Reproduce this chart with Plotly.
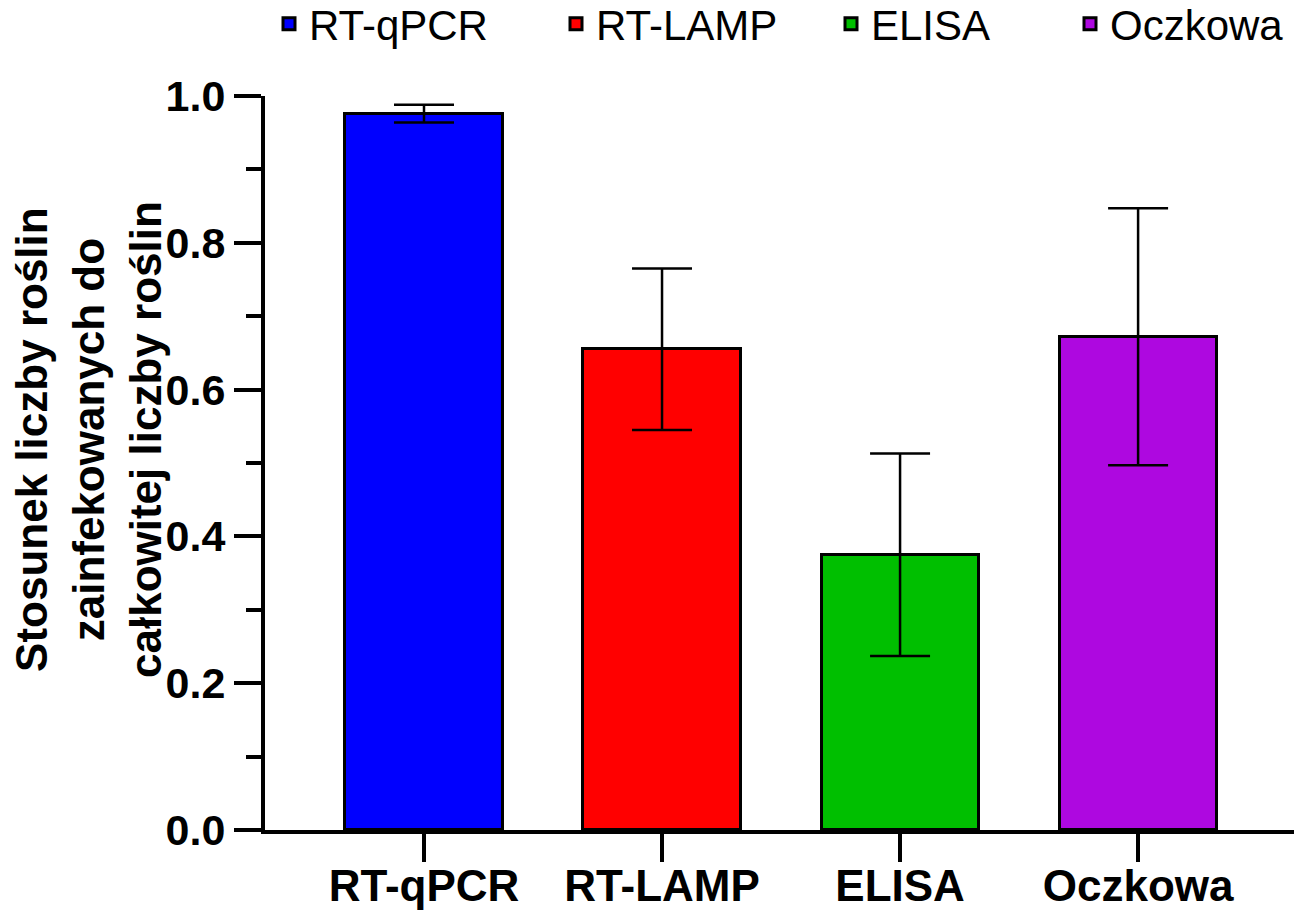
import plotly.graph_objects as go

categories = ["RT-qPCR", "RT-LAMP", "ELISA", "Oczkowa"]
means = [0.976, 0.655, 0.375, 0.672]
errors = [0.012, 0.110, 0.138, 0.175]
colors = ["#0000FF", "#FF0000", "#00BF00", "#AE08E0"]
y_ticks = [0.0, 0.2, 0.4, 0.6, 0.8, 1.0]
y_title = "Stosunek liczby roślin<br>zainfekowanych do<br>całkowitej liczby roślin"

FONT = "Arial, 'Liberation Sans', sans-serif"

W, H = 1294, 913
ML, MR, MT, MB = 265, 0, 96, 83
PW = W - ML - MR
PH = H - MT - MB

legend_names = ["legend", "legend2", "legend3", "legend4"]
legend_text_px = [309, 596, 871, 1110]

fig = go.Figure()
for i, cat in enumerate(categories):
    fig.add_trace(go.Bar(
        x=[cat], y=[means[i]], name=cat,
        width=0.66,
        marker=dict(color=colors[i], line=dict(color="black", width=3)),
        error_y=dict(type="data", array=[errors[i]], visible=True,
                     color="black", thickness=2.5, width=30),
        legend=legend_names[i],
        showlegend=True,
    ))

layout_legends = {}
for i, ln in enumerate(legend_names):
    layout_legends[ln] = dict(
        x=(legend_text_px[i] - 40 - ML) / PW,
        xanchor="left",
        y=(H - MB - 24) / PH,
        yanchor="middle",
        orientation="h",
        font=dict(family=FONT, size=42, color="black"),
        bgcolor="rgba(0,0,0,0)",
    )

fig.update_layout(
    template="none",
    width=W, height=H,
    margin=dict(l=ML, r=MR, t=MT, b=MB, pad=0, autoexpand=False),
    plot_bgcolor="white", paper_bgcolor="white",
    bargap=0,
    font=dict(family=FONT, color="black"),
    **layout_legends,
)

fig.update_xaxes(
    type="category", automargin=False,
    categoryorder="array", categoryarray=categories,
    range=[-0.668, 3.655],
    showline=True, linecolor="black", linewidth=4,
    ticks="outside", ticklen=28, tickwidth=4, tickcolor="black",
    ticklabelstandoff=-14,
    tickfont=dict(family=FONT, size=44, color="black", weight="bold"),
    showgrid=False, zeroline=False,
)
fig.update_yaxes(
    range=[0, 1.0], automargin=False,
    tickvals=y_ticks, ticktext=[f"{v:.1f}" for v in y_ticks],
    showline=True, linecolor="black", linewidth=4,
    ticks="outside", ticklen=27, tickwidth=4, tickcolor="black",
    tickfont=dict(family=FONT, size=43, color="black", weight="bold"),
    minor=dict(ticks="outside", ticklen=15, tickwidth=4, tickcolor="black", dtick=0.1, showgrid=False),
    showgrid=False, zeroline=False,
)

fig.add_annotation(
    text=y_title, textangle=-90,
    xref="paper", yref="paper",
    x=(88 - ML) / PW, y=(H - MB - 440) / PH,
    xanchor="center", yanchor="middle",
    showarrow=False,
    font=dict(family=FONT, size=44, color="black", weight="bold"),
)

fig.write_html("out.html", config={"displayModeBar": False},
               post_script="document.body.style.margin='0px';")
